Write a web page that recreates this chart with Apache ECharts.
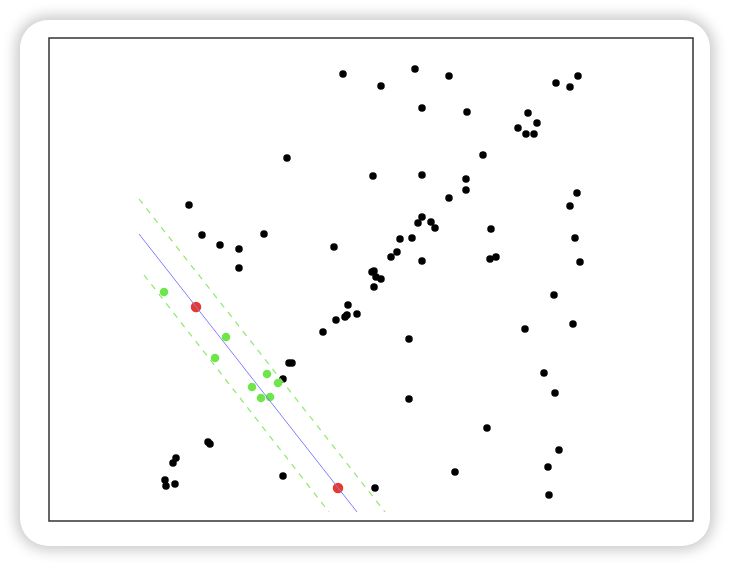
<!DOCTYPE html>
<html>
<head>
<meta charset="utf-8">
<script src="https://cdn.jsdelivr.net/npm/echarts@6/dist/echarts.min.js"></script>
<style>
  html, body { margin: 0; padding: 0; background: #fff; }
  #card {
    position: absolute; left: 20px; top: 20px; width: 690px; height: 526px;
    background: #fff; border-radius: 28px;
    box-shadow: 0 0 14px 4px rgba(0,0,0,0.22);
  }
  #main { position: absolute; left: 0; top: 0; width: 730px; height: 566px; }
</style>
</head>
<body>
<div id="card"></div>
<div id="main"></div>
<script>
// data points (x, y)
var blackPts = [
  [294,447],[332,435],[366,452],[400,445],[507,438],[521,434],[529,445],
  [373,413],[418,409],[479,408],[488,398],[469,393],[477,387],[485,387],
  [238,363],[434,366],[324,345],[373,346],[417,342],[417,331],[400,323],
  [528,328],[521,315],[140,316],[153,286],[171,276],[190,272],[190,253],
  [215,287],[285,274],[373,304],[369,298],[382,299],[386,293],[363,283],
  [351,282],[348,269],[342,264],[373,260],[442,292],[441,262],[447,264],
  [526,283],[531,259],[323,249],[325,250],[327,244],[332,242],[325,234],
  [299,216],[298,206],[296,204],[308,207],[287,201],[274,189],[360,182],
  [505,226],[476,192],[524,197],[240,158],[243,158],[234,142],[495,148],
  [506,128],[360,122],[438,93],[159,79],[161,77],[510,71],[499,54],
  [406,49],[127,63],[124,58],[116,41],[117,35],[126,37],[234,45],
  [326,33],[500,26]
];
var greenPts = [
  [115,229],[177,184],[166,163],[218,147],[229,138],[203,134],[212,123],[221,124]
];
var redPts = [[147,214],[289,33]];

// separating line and margins
var midLine = [[90,287],[308,9]];
var upperMargin = [[90,322],[336,9]];
var lowerMargin = [[95,246],[280,9]];

var myChart = echarts.init(document.getElementById('main'));
var option = {
  animation: false,
  backgroundColor: 'transparent',
  grid: {
    left: 49, top: 38, width: 644, height: 483,
    show: true, borderColor: '#333', borderWidth: 1.5, backgroundColor: '#fff'
  },
  xAxis: { type: 'value', min: 0, max: 644, show: false },
  yAxis: { type: 'value', min: 0, max: 483, show: false },
  series: [
    { type: 'line', data: upperMargin, showSymbol: false, silent: true,
      lineStyle: { color: '#8ee86c', width: 1.2, type: [6, 6] } },
    { type: 'line', data: lowerMargin, showSymbol: false, silent: true,
      lineStyle: { color: '#8ee86c', width: 1.2, type: [6, 6] } },
    { type: 'line', data: midLine, showSymbol: false, silent: true,
      lineStyle: { color: '#7f7fff', width: 1 } },
    { type: 'scatter', data: blackPts, symbolSize: 7.5,
      itemStyle: { color: '#000', opacity: 1 } },
    { type: 'scatter', data: greenPts, symbolSize: 8.5,
      itemStyle: { color: '#6ee64a', opacity: 1 } },
    { type: 'scatter', data: redPts, symbolSize: 10.5,
      itemStyle: { color: '#e8392c', opacity: 1 } }
  ]
};
myChart.setOption(option);
</script>
</body>
</html>
